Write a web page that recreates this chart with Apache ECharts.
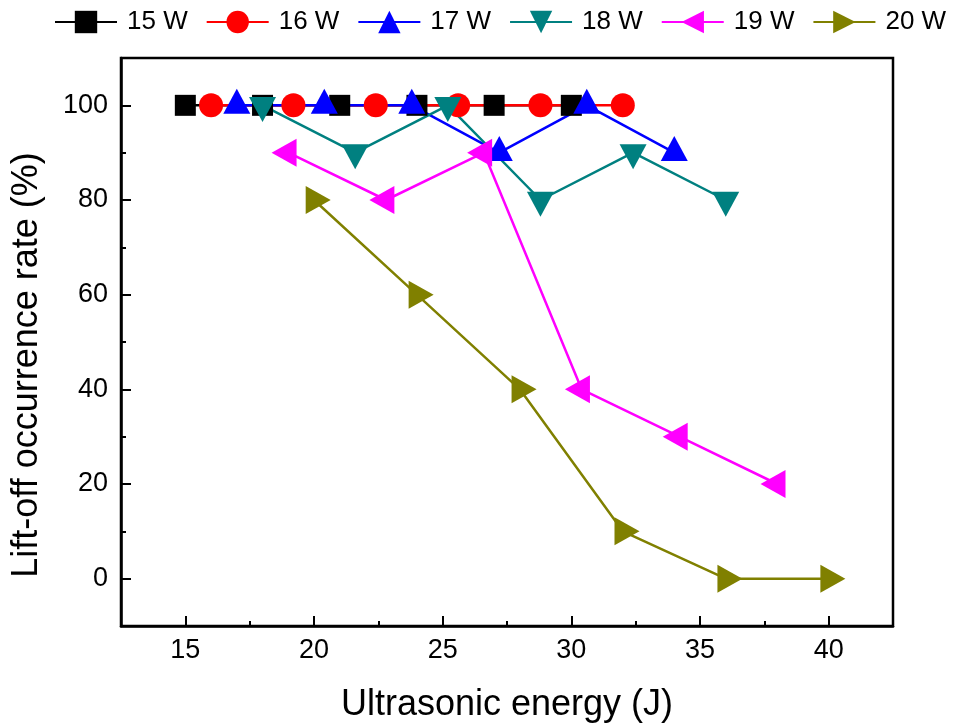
<!DOCTYPE html>
<html><head><meta charset="utf-8">
<script src="https://cdn.jsdelivr.net/npm/echarts@6/dist/echarts.min.js"></script>
<style>html,body{margin:0;padding:0;background:#fff}#c{width:953px;height:723px}</style>
</head><body><div id="c"></div>
<script>
// ---- data ----
const seriesNames = ['15 W', '16 W', '17 W', '18 W', '19 W', '20 W'];
const energy15 = [15, 18, 21, 24, 27, 30];
const rate15 = [100, 100, 100, 100, 100, 100];
const energy16 = [16, 19.2, 22.4, 25.6, 28.8, 32];
const rate16 = [100, 100, 100, 100, 100, 100];
const energy17 = [17, 20.4, 23.8, 27.2, 30.6, 34];
const rate17 = [100, 100, 100, 90, 100, 90];
const energy18 = [18, 21.6, 25.2, 28.8, 32.4, 36];
const rate18 = [100, 90, 100, 80, 90, 80];
const energy19 = [19, 22.8, 26.6, 30.4, 34.2, 38];
const rate19 = [90, 80, 90, 40, 30, 20];
const energy20 = [20, 24, 28, 32, 36, 40];
const rate20 = [80, 60, 40, 10, 0, 0];
const xMajorTicks = [15, 20, 25, 30, 35, 40];
const xMinorTicks = [17.5, 22.5, 27.5, 32.5, 37.5];
const yMajorTicks = [0, 20, 40, 60, 80, 100];
const yMinorTicks = [10, 30, 50, 70, 90];
const xTitle = 'Ultrasonic energy (J)';
const yTitle = 'Lift-off occurrence rate (%)';

// ---- styles ----
const FONT = '"Liberation Sans", Arial, sans-serif';
const energies = [energy15, energy16, energy17, energy18, energy19, energy20];
const rates = [rate15, rate16, rate17, rate18, rate19, rate20];
const colors = ['#000000', '#FF0000', '#0000FF', '#008080', '#FF00FF', '#808000'];
const symbols = [
  'rect', 'circle',
  'path://M5,0L10,10L0,10Z',   // up
  'path://M0,0L10,0L5,10Z',    // down
  'path://M0,5L10,0L10,10Z',   // left
  'path://M0,0L10,5L0,10Z'     // right
];
const symbolSizes = [[21, 21], [24, 24], [27, 25], [27, 25], [25, 28], [25, 28]];
const symbolOffsets = [[0, 0], [0, 0], [0, -4.2], [0, 4.2], [-4.2, 0], [4.2, 0]];

const series = seriesNames.map((name, i) => ({
  name: name,
  type: 'line',
  xAxisIndex: 0,
  yAxisIndex: 0,
  data: energies[i].map((x, j) => [x, rates[i][j]]),
  symbol: symbols[i],
  symbolSize: symbolSizes[i],
  symbolOffset: symbolOffsets[i],
  showAllSymbol: true,
  lineStyle: { color: colors[i], width: 2.5 },
  itemStyle: { color: colors[i], borderWidth: 0 },
  emphasis: { disabled: true },
  animation: false
}));

const axisLineStyle = { color: '#000', width: 2.5 };
const tickStyle = { color: '#000', width: 2 };

const chart = echarts.init(document.getElementById('c'));
chart.setOption({
  animation: false,
  backgroundColor: '#fff',
  textStyle: { fontFamily: FONT },
  legend: {
    data: seriesNames,
    top: 9,
    left: 54,
    width: 940,
    padding: 0,
    itemWidth: 62,
    itemHeight: 28,
    itemGap: 18,
    textStyle: { fontSize: 26, color: '#000', fontFamily: FONT, padding: [0, 0, 0, 5] }
  },
  grid: {
    left: 121, right: 60, top: 58, bottom: 97,
    outerBoundsMode: 'none',
    containLabel: false,
    show: true, borderColor: '#000', borderWidth: 2.5, backgroundColor: 'transparent'
  },
  xAxis: [
    {
      type: 'value', min: 12.5, max: 42.5, position: 'bottom',
      axisLine: { show: true, onZero: false, lineStyle: axisLineStyle },
      axisTick: { show: true, inside: true, length: 10, lineStyle: tickStyle, customValues: xMajorTicks },
      axisLabel: { customValues: xMajorTicks, fontSize: 27, color: '#000', margin: 11, fontFamily: FONT },
      splitLine: { show: false },
      name: xTitle, nameLocation: 'middle', nameGap: 61,
      nameTextStyle: { fontSize: 36, color: '#000', fontFamily: FONT }
    },
    {
      type: 'value', min: 12.5, max: 42.5, position: 'bottom',
      axisLine: { show: false, onZero: false },
      axisTick: { show: true, inside: true, length: 5, lineStyle: tickStyle, customValues: xMinorTicks },
      axisLabel: { show: false },
      splitLine: { show: false }
    }
  ],
  yAxis: [
    {
      type: 'value', min: -10, max: 110, position: 'left',
      axisLine: { show: true, onZero: false, lineStyle: axisLineStyle },
      axisTick: { show: true, inside: true, length: 10, lineStyle: tickStyle, customValues: yMajorTicks },
      axisLabel: { customValues: yMajorTicks, fontSize: 27, color: '#000', margin: 13, fontFamily: FONT },
      splitLine: { show: false },
      name: yTitle, nameLocation: 'middle', nameGap: 76, nameRotate: 90,
      nameTextStyle: { fontSize: 36, color: '#000', fontFamily: FONT, padding: [0, 46, 0, 0] }
    },
    {
      type: 'value', min: -10, max: 110, position: 'left',
      axisLine: { show: false, onZero: false },
      axisTick: { show: true, inside: true, length: 5, lineStyle: tickStyle, customValues: yMinorTicks },
      axisLabel: { show: false },
      splitLine: { show: false }
    }
  ],
  series: series
});
</script>
</body></html>
